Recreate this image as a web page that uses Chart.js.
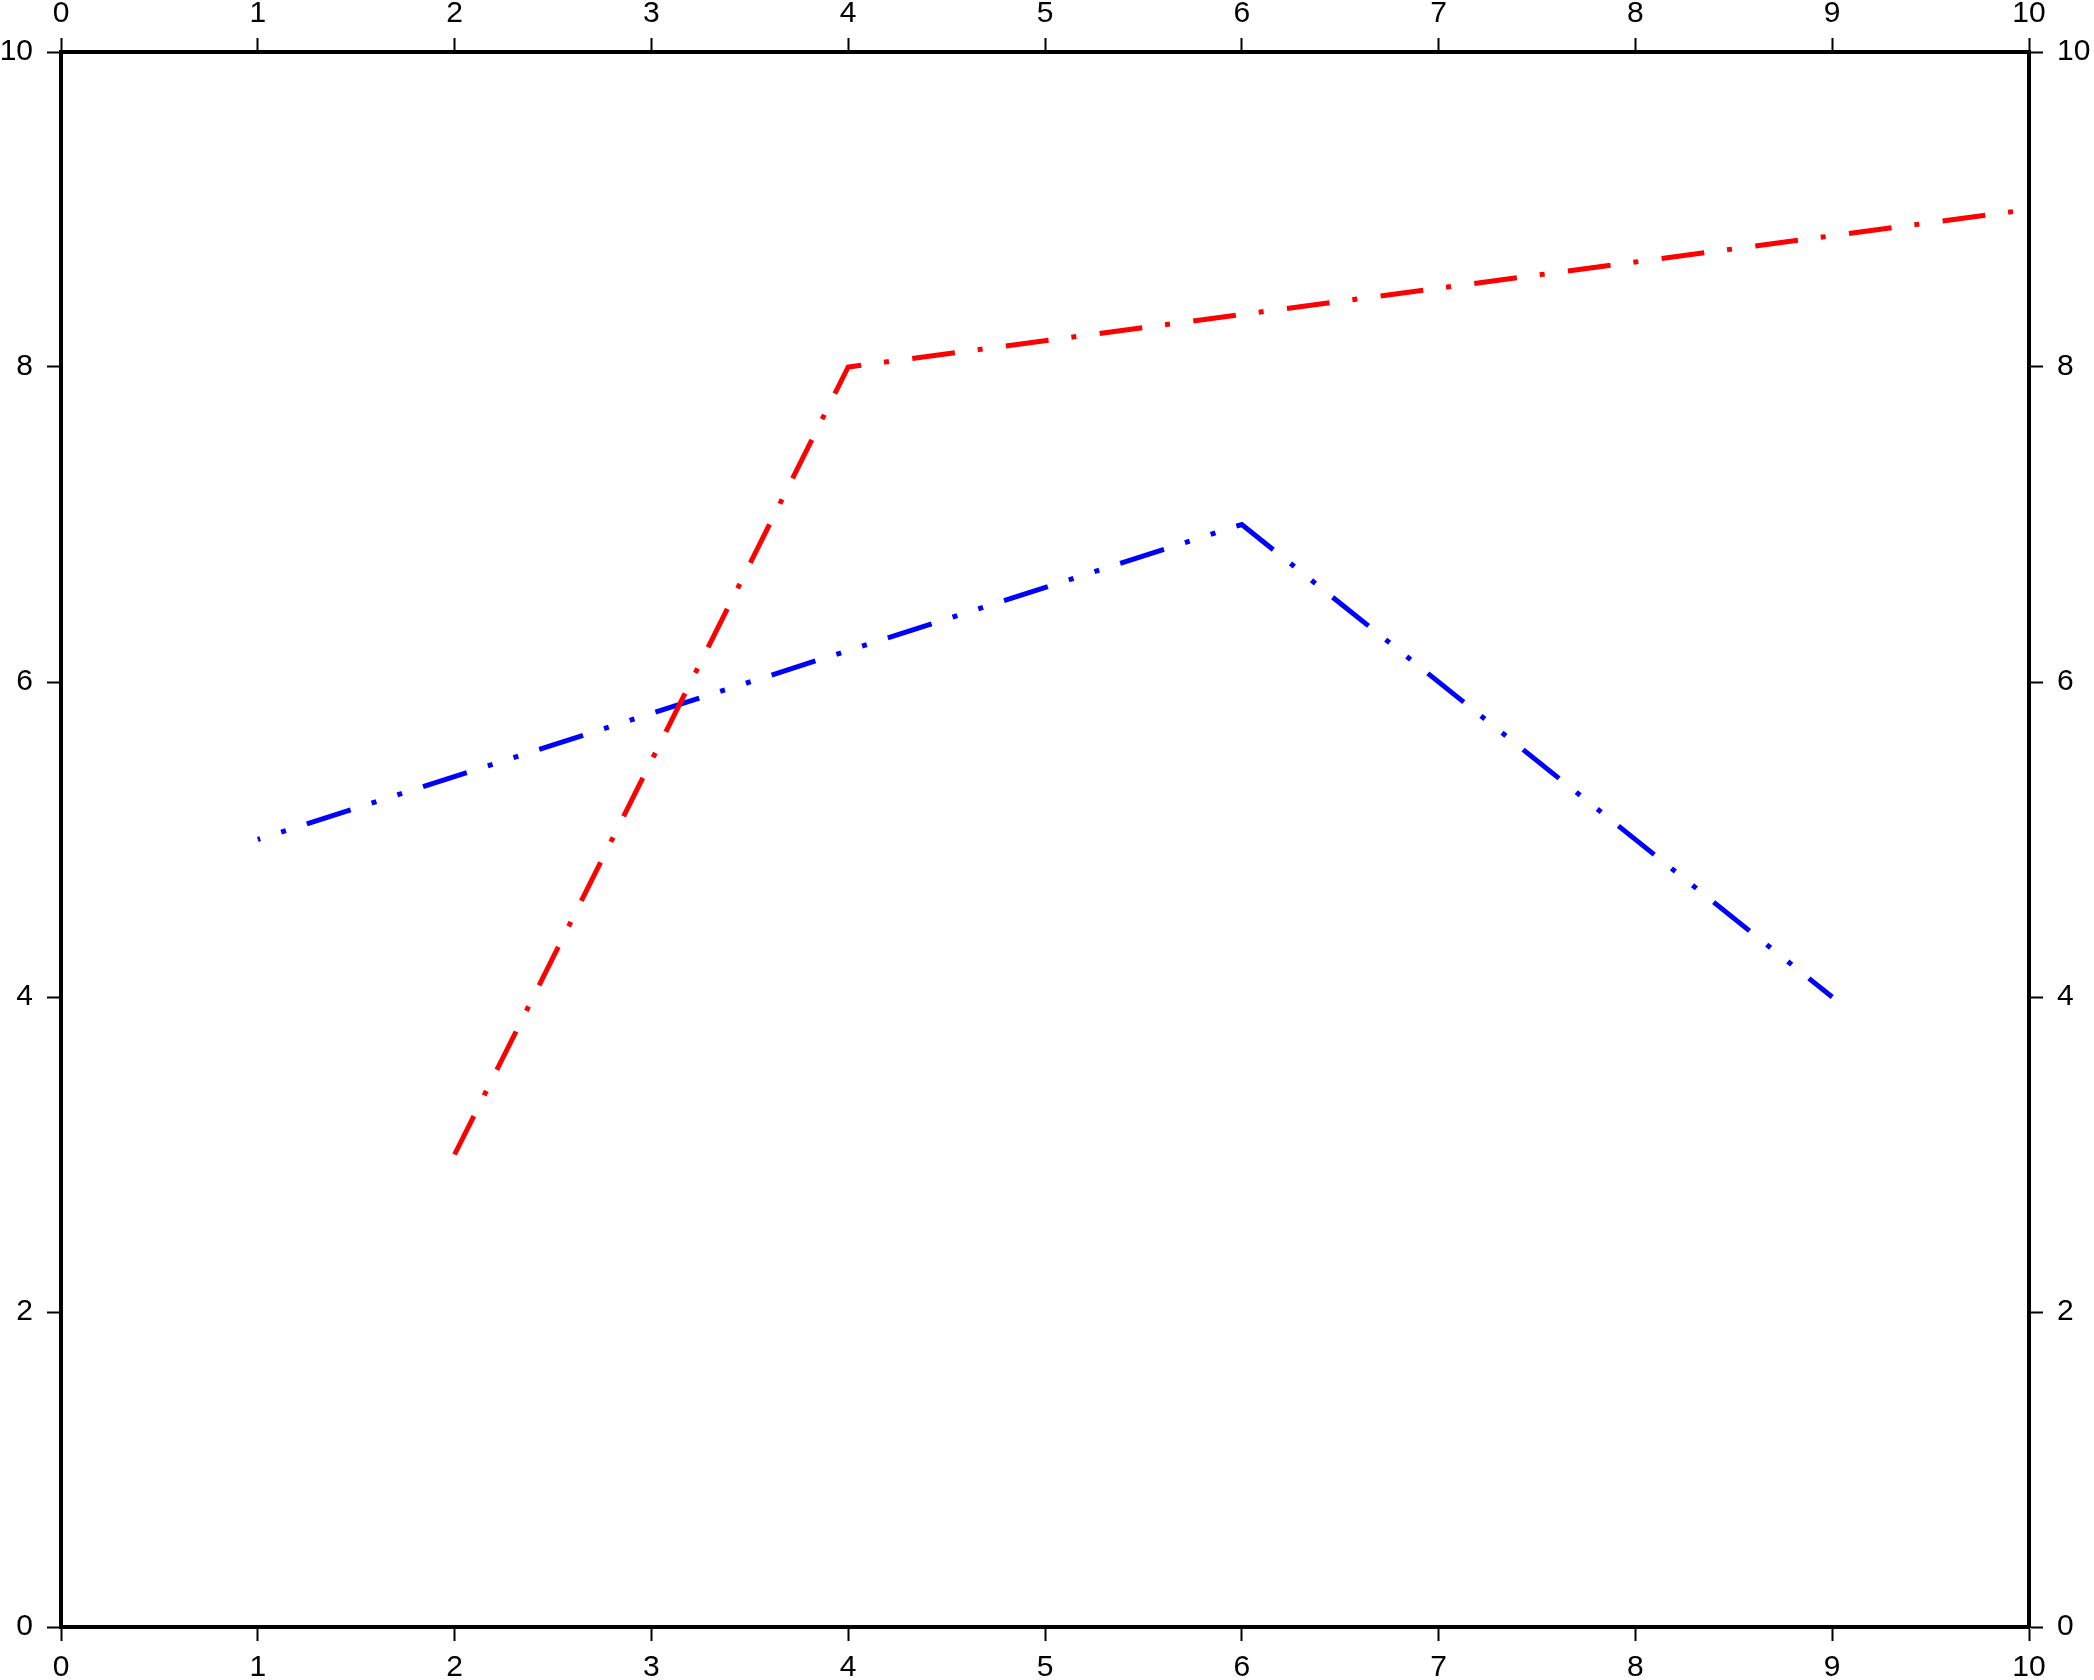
<!DOCTYPE html>
<html>
<head>
<meta charset="utf-8">
<script src="https://cdn.jsdelivr.net/npm/chart.js@4/dist/chart.umd.min.js"></script>
<style>
  html, body { margin: 0; padding: 0; background: #fff; }
  #wrap { width: 2094px; height: 1680px; }
</style>
</head>
<body>
<div id="wrap"><canvas id="c" width="2094" height="1680"></canvas></div>
<script>
// Data
const redX = [2, 4, 10];
const redY = [3, 8, 9];
const blueX = [1, 6, 9];
const blueY = [5, 7, 4];
const xTickValues = [0, 1, 2, 3, 4, 5, 6, 7, 8, 9, 10];
const yTickValues = [0, 2, 4, 6, 8, 10];

const toPts = (xs, ys) => xs.map((x, i) => ({ x: x, y: ys[i] }));

const FONT = { family: '"Liberation Sans", Arial, Helvetica, sans-serif', size: 30 };

function axis(position, stepSize, fitSize, pad) {
  return {
    type: 'linear',
    position: position,
    min: 0,
    max: 10,
    grid: {
      display: true,
      drawOnChartArea: false,
      drawTicks: true,
      tickLength: 14,
      tickWidth: 2,
      tickColor: '#000'
    },
    border: { display: true, width: 4, color: '#000' },
    ticks: {
      stepSize: stepSize,
      color: '#000',
      font: FONT,
      padding: pad,
      maxRotation: 0,
      autoSkip: false,
      callback: (v) => String(v)
    },
    afterFit: (scale) => {
      if (position === 'left' || position === 'right') scale.width = fitSize;
      else scale.height = fitSize;
    }
  };
}

new Chart(document.getElementById('c'), {
  type: 'line',
  data: {
    datasets: [
      {
        data: toPts(redX, redY),
        borderColor: '#ff0000',
        borderWidth: 5,
        borderDash: [43, 23, 5, 23.5],
        borderCapStyle: 'butt',
        borderJoinStyle: 'miter',
        pointRadius: 0,
        fill: false,
        tension: 0,
        xAxisID: 'x',
        yAxisID: 'y'
      },
      {
        data: toPts(blueX, blueY),
        borderColor: '#0000ff',
        borderWidth: 5,
        borderDash: [5, 22, 5, 22, 46, 22],
        borderDashOffset: 2.5,
        borderCapStyle: 'butt',
        borderJoinStyle: 'miter',
        pointRadius: 0,
        fill: false,
        tension: 0,
        xAxisID: 'x',
        yAxisID: 'y'
      }
    ]
  },
  options: {
    responsive: false,
    animation: false,
    layout: { padding: 0 },
    plugins: { legend: { display: false }, tooltip: { enabled: false } },
    scales: {
      x: axis('bottom', 1, 53, 9),
      x2: axis('top', 1, 52, 6),
      y: axis('left', 2, 61, 14),
      y2: axis('right', 2, 65, 14)
    }
  }
});
</script>
</body>
</html>
